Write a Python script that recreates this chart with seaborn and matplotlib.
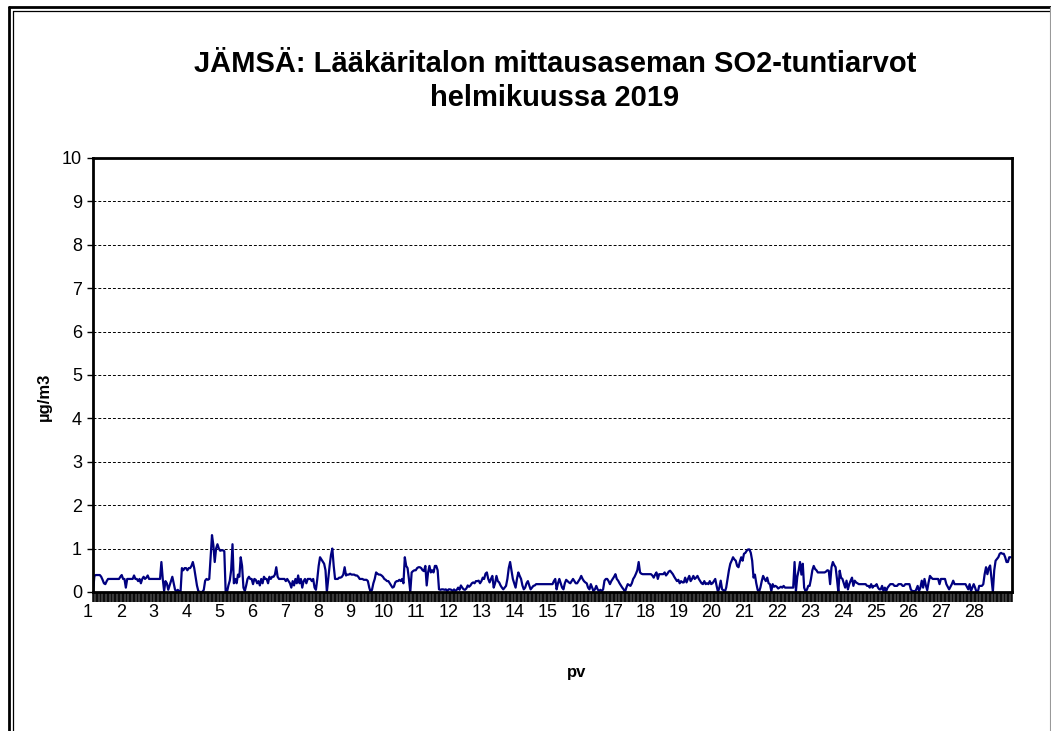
import numpy as np
import pandas as pd
import matplotlib
matplotlib.use("Agg")
import matplotlib.pyplot as plt
import matplotlib.transforms as mtransforms
from matplotlib.lines import Line2D
import seaborn as sns

# hourly SO2 values (ug/m3), one row per day
week1 = [
    0.0, 0.37, 0.39, 0.39, 0.39, 0.39, 0.35, 0.28, 0.2, 0.18, 0.25, 0.3, 0.3, 0.3, 0.3, 0.3, 0.3, 0.3, 0.3, 0.3, 0.35, 0.39, 0.3, 0.3,
    0.1, 0.3, 0.3, 0.3, 0.3, 0.3, 0.38, 0.3, 0.3, 0.25, 0.3, 0.2, 0.3, 0.35, 0.3, 0.33, 0.38, 0.3, 0.3, 0.3, 0.3, 0.3, 0.3, 0.3,
    0.3, 0.3, 0.69, 0.3, 0.02, 0.25, 0.2, 0.05, 0.15, 0.25, 0.35, 0.2, 0.05, 0.02, 0.05, 0.0, 0.0, 0.55, 0.5, 0.55, 0.55, 0.5, 0.55, 0.55,
    0.6, 0.69, 0.55, 0.35, 0.15, 0.02, 0.0, 0.0, 0.0, 0.05, 0.26, 0.3, 0.28, 0.3, 0.8, 1.31, 1.08, 0.69, 1.0, 1.1, 1.0, 0.95, 0.96, 0.96,
    0.94, 0.0, 0.0, 0.15, 0.26, 0.5, 1.1, 0.2, 0.3, 0.2, 0.4, 0.35, 0.8, 0.6, 0.1, 0.02, 0.15, 0.3, 0.35, 0.3, 0.3, 0.18, 0.3, 0.28,
    0.2, 0.25, 0.15, 0.3, 0.2, 0.35, 0.3, 0.3, 0.2, 0.35, 0.3, 0.35, 0.35, 0.4, 0.57, 0.35, 0.3, 0.3, 0.3, 0.3, 0.3, 0.25, 0.3, 0.25,
    0.2, 0.1, 0.25, 0.15, 0.3, 0.2, 0.38, 0.2, 0.3, 0.1, 0.25, 0.3, 0.2, 0.3, 0.3, 0.3, 0.25, 0.3, 0.1, 0.05, 0.3, 0.6, 0.8, 0.75,
]
week2 = [
    0.7, 0.65, 0.5, 0.0, 0.3, 0.6, 0.85, 1.0, 0.6, 0.3, 0.3, 0.3, 0.33, 0.33, 0.35, 0.4, 0.57, 0.38, 0.4, 0.4, 0.42, 0.4, 0.4, 0.4,
    0.38, 0.38, 0.35, 0.3, 0.3, 0.3, 0.28, 0.28, 0.28, 0.25, 0.1, 0.0, 0.05, 0.2, 0.3, 0.45, 0.42, 0.4, 0.4, 0.38, 0.35, 0.3, 0.28, 0.25,
    0.25, 0.2, 0.15, 0.1, 0.12, 0.22, 0.25, 0.25, 0.28, 0.25, 0.3, 0.2, 0.8, 0.6, 0.55, 0.3, 0.0, 0.45, 0.48, 0.5, 0.5, 0.55, 0.57, 0.57,
    0.55, 0.5, 0.48, 0.6, 0.15, 0.45, 0.6, 0.45, 0.5, 0.45, 0.6, 0.6, 0.5, 0.06, 0.05, 0.06, 0.06, 0.05, 0.06, 0.02, 0.06, 0.06, 0.05, 0.02,
    0.06, 0.02, 0.05, 0.1, 0.05, 0.15, 0.1, 0.06, 0.05, 0.08, 0.15, 0.12, 0.15, 0.2, 0.22, 0.2, 0.25, 0.25, 0.26, 0.2, 0.25, 0.33, 0.3, 0.42,
    0.45, 0.3, 0.22, 0.3, 0.37, 0.1, 0.2, 0.37, 0.25, 0.22, 0.15, 0.1, 0.06, 0.1, 0.14, 0.3, 0.55, 0.69, 0.5, 0.3, 0.2, 0.1, 0.3, 0.45,
    0.37, 0.3, 0.15, 0.06, 0.1, 0.2, 0.25, 0.15, 0.06, 0.1, 0.14, 0.15, 0.18, 0.18, 0.18, 0.18, 0.18, 0.18, 0.18, 0.18, 0.18, 0.18, 0.18, 0.18,
]
week3 = [
    0.18, 0.25, 0.3, 0.06, 0.2, 0.3, 0.2, 0.1, 0.06, 0.2, 0.28, 0.25, 0.22, 0.2, 0.25, 0.3, 0.25, 0.2, 0.2, 0.25, 0.3, 0.37, 0.3, 0.25,
    0.22, 0.2, 0.1, 0.06, 0.18, 0.1, 0.02, 0.06, 0.14, 0.06, 0.02, 0.05, 0.02, 0.06, 0.26, 0.3, 0.3, 0.25, 0.18, 0.25, 0.3, 0.35, 0.41, 0.3,
    0.26, 0.2, 0.15, 0.1, 0.06, 0.0, 0.1, 0.18, 0.16, 0.14, 0.2, 0.3, 0.35, 0.42, 0.5, 0.69, 0.45, 0.42, 0.41, 0.41, 0.41, 0.41, 0.41, 0.41,
    0.41, 0.38, 0.33, 0.4, 0.45, 0.3, 0.41, 0.41, 0.41, 0.41, 0.45, 0.38, 0.42, 0.47, 0.49, 0.45, 0.41, 0.35, 0.3, 0.25, 0.28, 0.2, 0.25, 0.22,
    0.22, 0.33, 0.22, 0.3, 0.37, 0.25, 0.3, 0.37, 0.3, 0.33, 0.37, 0.3, 0.25, 0.2, 0.18, 0.25, 0.18, 0.2, 0.18, 0.25, 0.18, 0.2, 0.25, 0.3,
    0.14, 0.0, 0.1, 0.26, 0.06, 0.04, 0.0, 0.1, 0.3, 0.5, 0.65, 0.72, 0.8, 0.75, 0.72, 0.6, 0.57, 0.7, 0.8, 0.72, 0.88, 0.9, 0.95, 0.98,
    0.98, 0.9, 0.72, 0.33, 0.4, 0.2, 0.05, 0.0, 0.1, 0.25, 0.37, 0.3, 0.25, 0.33, 0.2, 0.18, 0.02, 0.18, 0.12, 0.14, 0.12, 0.08, 0.1, 0.12,
]
week4 = [
    0.1, 0.14, 0.1, 0.1, 0.1, 0.1, 0.1, 0.1, 0.1, 0.69, 0.02, 0.35, 0.5, 0.69, 0.4, 0.65, 0.1, 0.02, 0.05, 0.14, 0.14, 0.3, 0.5, 0.6,
    0.53, 0.5, 0.45, 0.45, 0.45, 0.45, 0.45, 0.45, 0.47, 0.5, 0.49, 0.18, 0.57, 0.69, 0.62, 0.57, 0.3, 0.0, 0.49, 0.33, 0.3, 0.2, 0.1, 0.26,
    0.06, 0.18, 0.26, 0.33, 0.14, 0.26, 0.22, 0.2, 0.18, 0.18, 0.18, 0.18, 0.18, 0.18, 0.14, 0.14, 0.1, 0.18, 0.1, 0.14, 0.14, 0.18, 0.1, 0.06,
    0.06, 0.14, 0.02, 0.1, 0.02, 0.1, 0.14, 0.18, 0.18, 0.18, 0.14, 0.14, 0.14, 0.18, 0.18, 0.18, 0.14, 0.14, 0.18, 0.18, 0.18, 0.18, 0.06, 0.02,
    0.02, 0.0, 0.06, 0.14, 0.02, 0.1, 0.26, 0.1, 0.3, 0.15, 0.04, 0.22, 0.37, 0.33, 0.3, 0.3, 0.3, 0.3, 0.3, 0.18, 0.3, 0.3, 0.3, 0.3,
    0.18, 0.12, 0.06, 0.12, 0.18, 0.26, 0.18, 0.18, 0.18, 0.18, 0.18, 0.18, 0.18, 0.18, 0.18, 0.12, 0.06, 0.18, 0.02, 0.1, 0.18, 0.1, 0.0, 0.0,
    0.14, 0.14, 0.14, 0.18, 0.41, 0.57, 0.41, 0.55, 0.61, 0.3, 0.0, 0.5, 0.72, 0.76, 0.8, 0.88, 0.9, 0.88, 0.88, 0.8, 0.69, 0.69, 0.8, 0.8,
]
days = list(range(1, 29))

so2 = week1 + week2 + week3 + week4
df = pd.DataFrame({"hour": np.arange(len(so2)), "so2": so2})

sns.set_style("white")
plt.rcParams["font.family"] = ["Liberation Sans", "DejaVu Sans"]
plt.rcParams["text.color"] = "black"
plt.rcParams["axes.labelcolor"] = "black"
plt.rcParams["xtick.color"] = "black"
plt.rcParams["ytick.color"] = "black"

fig = plt.figure(figsize=(10.51, 7.31), dpi=100)
ax = fig.add_axes([0.0885, 0.1902, 0.8744, 0.5937])

sns.lineplot(data=df, x="hour", y="so2", ax=ax, color="#000080", linewidth=1.6)

ax.set_xlim(0, len(so2) - 0.5)
ax.set_ylim(0, 10)
ax.set_yticks(range(0, 11))
ax.set_yticklabels([str(v) for v in range(0, 11)], fontsize=13)
ax.set_xticks([(d - 1) * 24 for d in days])
ax.set_xticklabels([str(d) for d in days], fontsize=13)
ax.set_xticks(np.arange(0, len(so2) + 1), minor=True)
ax.tick_params(axis="x", which="both", bottom=True, direction="out", length=7, width=1.1,
               color="black", pad=2)
ax.tick_params(axis="y", which="major", left=True, direction="out", length=4, width=1,
               color="black", pad=4)
offset = mtransforms.ScaledTranslation(-5 / 100, 0, fig.dpi_scale_trans)
for lab in ax.get_xticklabels():
    lab.set_transform(lab.get_transform() + offset)

for v in range(1, 10):
    ax.axhline(v, color="black", linestyle=(0, (3, 2)), linewidth=0.7, zorder=0)

for side in ["left", "top", "right", "bottom"]:
    ax.spines[side].set_visible(True)
    ax.spines[side].set_color("black")
    ax.spines[side].set_linewidth(2)

ax.set_xlabel("pv", fontsize=12, fontweight="bold")
ax.xaxis.set_label_coords(0.526, -0.168)
ax.set_ylabel("µg/m3", fontsize=12, fontweight="bold")
ax.yaxis.set_label_coords(-0.045, 0.45)

fig.text(0.528, 0.889, "JÄMSÄ: Lääkäritalon mittausaseman SO2-tuntiarvot\nhelmikuussa 2019",
         ha="center", va="center", fontsize=21, fontweight="bold", linespacing=1.25,
         color="black")

# double frame around the figure
W, H = 1051, 731
def fx(p):
    return p / W
def fy(p):
    return 1 - p / H
fig.add_artist(Line2D([fx(9.3), fx(9.3)], [fy(7.3), 0], color="black", linewidth=2, transform=fig.transFigure))
fig.add_artist(Line2D([fx(9.3), 1], [fy(7.3), fy(7.3)], color="black", linewidth=2, transform=fig.transFigure))
fig.add_artist(Line2D([fx(13.3), fx(13.3)], [fy(10.7), 0], color="black", linewidth=0.9, transform=fig.transFigure))
fig.add_artist(Line2D([fx(13.3), 1], [fy(10.7), fy(10.7)], color="black", linewidth=0.9, transform=fig.transFigure))
fig.add_artist(Line2D([fx(1050), fx(1050)], [fy(7.3), 0], color="#999999", linewidth=0.8, transform=fig.transFigure))

fig.savefig("out.png", dpi=100)
